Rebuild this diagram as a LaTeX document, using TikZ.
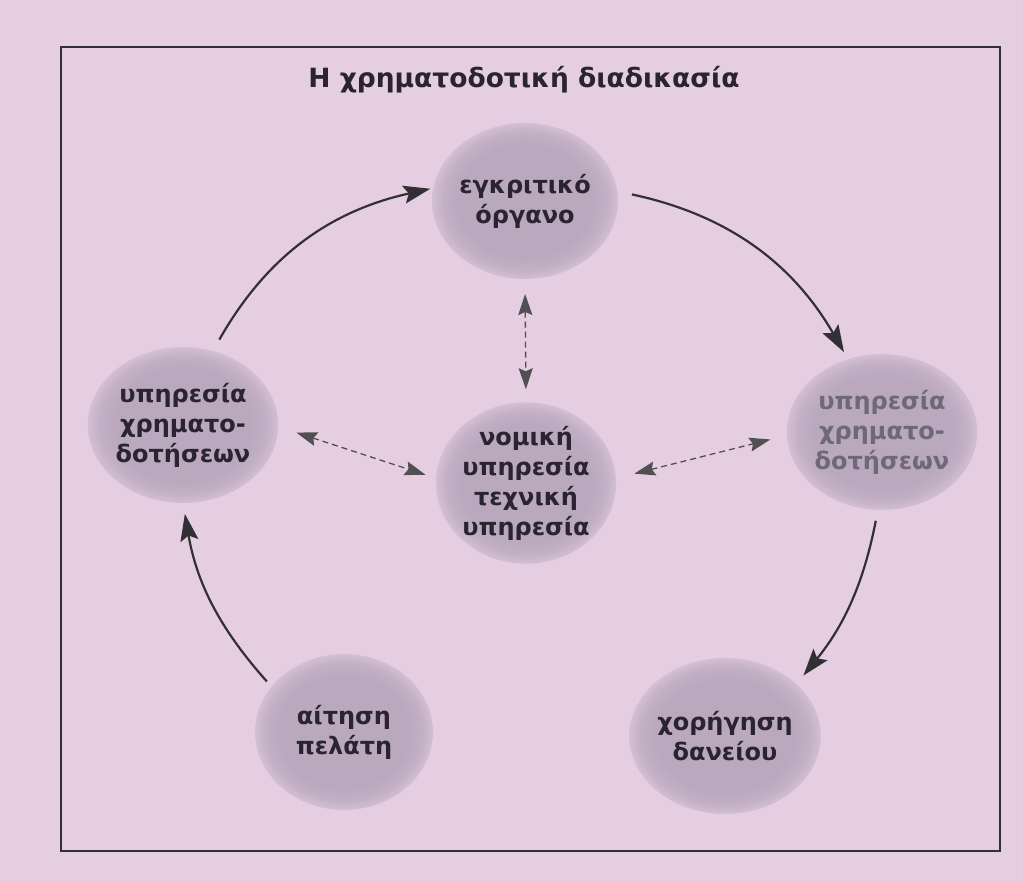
\documentclass[tikz,border=0pt]{standalone}
\usepackage{fontspec}
\setmainfont{DejaVu Sans}
\usetikzlibrary{arrows.meta,shapes.geometric}
\definecolor{bg}{HTML}{E5CEE2}
\definecolor{circ}{HTML}{B9A8BE}
\definecolor{ink}{HTML}{2A2430}
\definecolor{faint}{HTML}{6E6878}
\definecolor{lineink}{HTML}{333035}
\pgfdeclareradialshading{softblob}{\pgfpointorigin}{color(0bp)=(circ);color(18bp)=(circ);color(22bp)=(circ!80!bg);color(25bp)=(circ!40!bg);color(50bp)=(bg)}
\begin{document}
\begin{tikzpicture}[x=1pt,y=1pt,
  bubble/.style={ellipse, shading=softblob, minimum width=178pt, minimum height=156pt,
    inner sep=0pt, outer sep=0pt, align=center, text=ink,
    font=\fontsize{24}{30}\selectfont\bfseries},
  flow/.style={draw=lineink, line width=2.2pt, -{Stealth[length=27pt,width=18pt,inset=5pt]}},
  link/.style={draw=lineink!85, line width=1.3pt, dash pattern=on 6pt off 4pt,
    {Stealth[length=21pt,width=14pt,inset=3pt]}-{Stealth[length=21pt,width=14pt,inset=3pt]}},
  frame/.style={draw=lineink, line width=1.5pt}]
\fill[bg] (0,0) rectangle (1023,881);
\useasboundingbox (0,0) rectangle (1023,881);
\draw[frame] (61,30) rectangle (1000,834);
\node[anchor=base, text=ink, font=\fontsize{26.5}{30}\selectfont\bfseries] (title) at (524,793) {Η χρηματοδοτική διαδικασία};

\node[bubble] (T) at (525,680) {εγκριτικό\\όργανο};
\node[bubble] (L) at (183,456) {υπηρεσία\\χρηματο-\\δοτήσεων};
\node[bubble] (C) at (526,398) {νομική\\υπηρεσία\\τεχνική\\υπηρεσία};
\node[bubble, text=faint] (R) at (882,449) {υπηρεσία\\χρηματο-\\δοτήσεων};
\node[bubble] (A) at (344,149) {αίτηση\\πελάτη};
\node[bubble] (D) at (725,145) {χορήγηση\\δανείου};

\draw[flow, shorten <=13pt, shorten >=3pt] (L.68) to[bend left=24] (T.172);
\draw[flow, shorten <=15pt, shorten >=8pt] (T.6) to[bend left=24] (R.115);
\draw[flow, shorten <=11pt, shorten >=11pt] (R.267) to[bend left=14] (D.36);
\draw[flow, shorten <=7pt, shorten >=11pt] (A.148) to[bend left=16] (L.270);

\draw[link, shorten <=15pt, shorten >=13pt] (T.south) -- (C.north);
\draw[link, shorten <=19pt, shorten >=11pt] (L.-1) -- (C.177);
\draw[link, shorten <=19pt, shorten >=17pt] (C.3) -- (R.182);
\end{tikzpicture}
\end{document}
